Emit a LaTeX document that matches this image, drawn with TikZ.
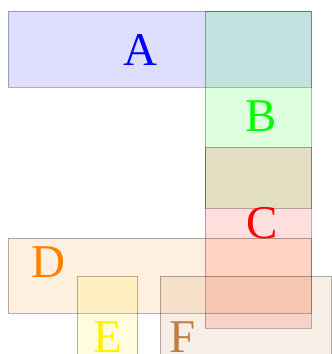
\documentclass[tikz,border=0pt]{standalone}
\usepackage{fontspec}
\setmainfont{Liberation Serif}
\begin{document}
\begin{tikzpicture}[x=1pt,y=-1pt,
  box/.style={draw=black, draw opacity=0.3, line width=0.9pt, fill=#1, fill opacity=0.13},
  lbl/.style={text=#1, anchor=base, inner sep=0pt, font=\fontsize{47}{47}\selectfont}]
\useasboundingbox (0,0) rectangle (332,354);
\begin{scope}
\clip (0,0) rectangle (332,354);
\path[box=blue] (8,11) rectangle (311,87);
\path[box=green] (205,11) rectangle (311,208);
\path[box=red] (205,147) rectangle (311,328);
\path[box=orange] (8,238) rectangle (311,313);
\path[box=yellow] (77,276) rectangle (137,360);
\path[box=brown] (160,276) rectangle (331.5,360);
\node[lbl=blue] (la) at (140,65) {A};
\node[lbl=green] (lb) at (261,131) {B};
\node[lbl=red] (lc) at (262,238) {C};
\node[lbl=orange] (ld) at (48,277) {D};
\node[lbl=yellow] (le) at (108,352) {E};
\node[lbl=brown] (lf) at (183,352) {F};
\end{scope}
\end{tikzpicture}
\end{document}
